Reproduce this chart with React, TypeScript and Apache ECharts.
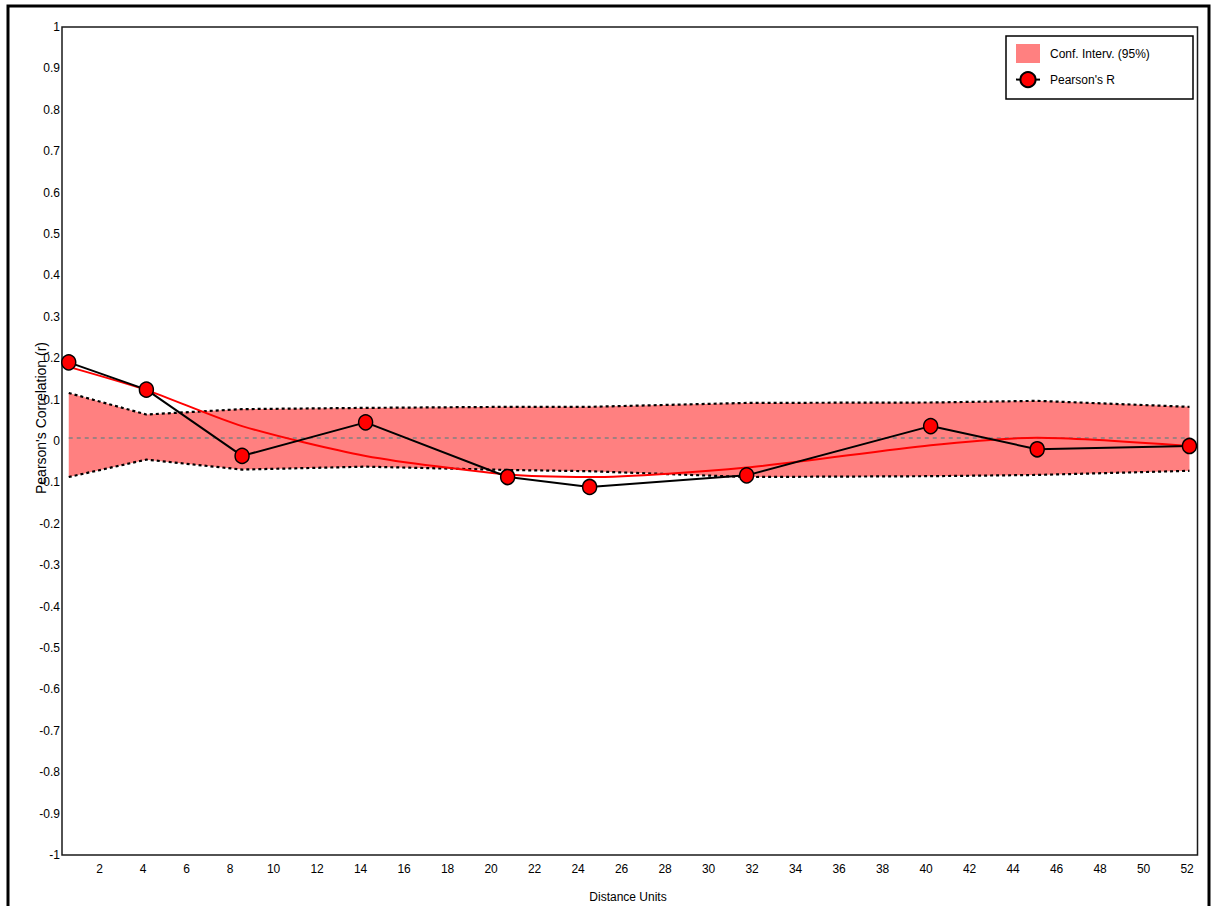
import React, { useEffect, useRef } from "react";
import * as echarts from "echarts";

// Mean distance of each lag class
const distances = [0.58, 4.15, 8.55, 14.23, 20.76, 24.53, 31.75, 40.21, 45.11, 52.11];
// Observed correlation per lag class
const pearsonR = [0.19, 0.124, -0.036, 0.045, -0.087, -0.111, -0.083, 0.036, -0.02, -0.012];
// Smoothed trend of the correlation
const trendR = [0.179, 0.123, 0.036, -0.036, -0.081, -0.087, -0.064, -0.01, 0.008, -0.012];
// 95% confidence envelope
const ciUpper = [0.116, 0.064, 0.077, 0.08, 0.0825, 0.0825, 0.092, 0.093, 0.097, 0.0825];
const ciLower = [-0.087, -0.045, -0.069, -0.062, -0.07, -0.073, -0.087, -0.085, -0.082, -0.072];
// Expected value under no autocorrelation
const refLevel = 0.007;
// Tick labels on the distance axis
const xTicks = [2, 4, 6, 8, 10, 12, 14, 16, 18, 20, 22, 24, 26, 28, 30, 32, 34, 36, 38, 40, 42, 44, 46, 48, 50, 52];

const FONT = "'Liberation Sans', Arial, sans-serif";
const BAND = "#FF8080";

export default function App() {
  const ref = useRef<HTMLDivElement>(null);

  useEffect(() => {
    if (!ref.current) return;
    const chart = echarts.init(ref.current, undefined, { renderer: "svg" });
    const pairs = (ys: number[]) => distances.map((x, i) => [x, ys[i]]);

    chart.setOption({
      animation: false,
      backgroundColor: "#fff",
      textStyle: { fontFamily: FONT },
      grid: {
        left: 62,
        top: 27,
        right: 18.5,
        bottom: 51,
        show: true,
        borderColor: "#1a1a1a",
        borderWidth: 1.5,
        backgroundColor: "transparent",
      },
      legend: {
        orient: "vertical",
        left: 1015,
        top: 44,
        padding: 0,
        itemWidth: 24,
        itemHeight: 19,
        itemGap: 8,
        textStyle: { fontSize: 12, color: "#000", fontFamily: FONT, padding: [0, 0, 0, 5] },
        data: [
          { name: "Conf. Interv. (95%)", icon: "rect", itemStyle: { color: BAND } },
          { name: "Pearson's R" },
        ],
      },
      xAxis: {
        type: "value",
        min: 0.27,
        max: 52.48,
        axisLine: { show: false },
        axisTick: { show: false },
        splitLine: { show: false },
        axisLabel: {
          customValues: xTicks,
          margin: 8,
          fontSize: 12,
          color: "#000",
          fontFamily: FONT,
        },
      },
      yAxis: {
        type: "value",
        min: -1,
        max: 1,
        interval: 0.1,
        axisLine: { show: false },
        axisTick: { show: false },
        splitLine: { show: false },
        axisLabel: {
          margin: 2,
          fontSize: 12,
          color: "#000",
          fontFamily: FONT,
          formatter: (v: number) => String(Math.round(v * 10) / 10),
        },
      },
      graphic: [
        {
          type: "rect",
          shape: { x: 8, y: 6, width: 1201, height: 1000 },
          style: { fill: "none", stroke: "#000", lineWidth: 3 },
          silent: true,
        },
        {
          type: "rect",
          shape: { x: 1006, y: 36, width: 187, height: 63 },
          style: { fill: "#fff", stroke: "#000", lineWidth: 1.5 },
          z: 1,
          silent: true,
        },
        {
          type: "text",
          x: 41,
          y: 418,
          rotation: Math.PI / 2,
          style: {
            text: "Pearson's Correlation (r)",
            fontSize: 14,
            fontFamily: FONT,
            fill: "#000",
            align: "center",
            verticalAlign: "middle",
          },
        },
        {
          type: "text",
          x: 628,
          y: 897,
          style: {
            text: "Distance Units",
            fontSize: 12,
            fontFamily: FONT,
            fill: "#000",
            align: "center",
            verticalAlign: "middle",
          },
        },
      ],
      series: [
        {
          name: "Conf. Interv. (95%)",
          type: "custom",
          itemStyle: { color: BAND },
          data: [[distances[0], 0]],
          z: 1,
          renderItem: (params: any, api: any) => {
            if (params.dataIndex !== 0) return null;
            const top = distances.map((x, i) => api.coord([x, ciUpper[i]]));
            const bottom = distances.map((x, i) => api.coord([x, ciLower[i]])).reverse();
            return {
              type: "polygon",
              shape: { points: top.concat(bottom) },
              style: { fill: BAND },
            };
          },
        },
        {
          name: "CI upper",
          type: "line",
          data: pairs(ciUpper),
          symbol: "none",
          silent: true,
          z: 2,
          lineStyle: { color: "#000", width: 2.2, type: [3, 3] },
        },
        {
          name: "CI lower",
          type: "line",
          data: pairs(ciLower),
          symbol: "none",
          silent: true,
          z: 2,
          lineStyle: { color: "#000", width: 2.2, type: [3, 3] },
        },
        {
          name: "Expected",
          type: "line",
          data: [
            [distances[0], refLevel],
            [distances[distances.length - 1], refLevel],
          ],
          symbol: "none",
          silent: true,
          z: 3,
          lineStyle: { color: "#808080", width: 1.5, type: [4, 4] },
        },
        {
          name: "Trend",
          type: "line",
          data: pairs(trendR),
          symbol: "none",
          smooth: 0.25,
          silent: true,
          z: 4,
          lineStyle: { color: "#FF0000", width: 2 },
        },
        {
          name: "Pearson's R",
          type: "line",
          data: pairs(pearsonR),
          symbol: "circle",
          symbolSize: [14, 15],
          z: 5,
          lineStyle: { color: "#000", width: 2 },
          itemStyle: { color: "#FF0000", borderColor: "#000", borderWidth: 1.5 },
        },
      ],
    });

    return () => chart.dispose();
  }, []);

  return (
    <div
      ref={ref}
      style={{ position: "absolute", left: 0, top: 0, width: 1216, height: 906 }}
    />
  );
}
